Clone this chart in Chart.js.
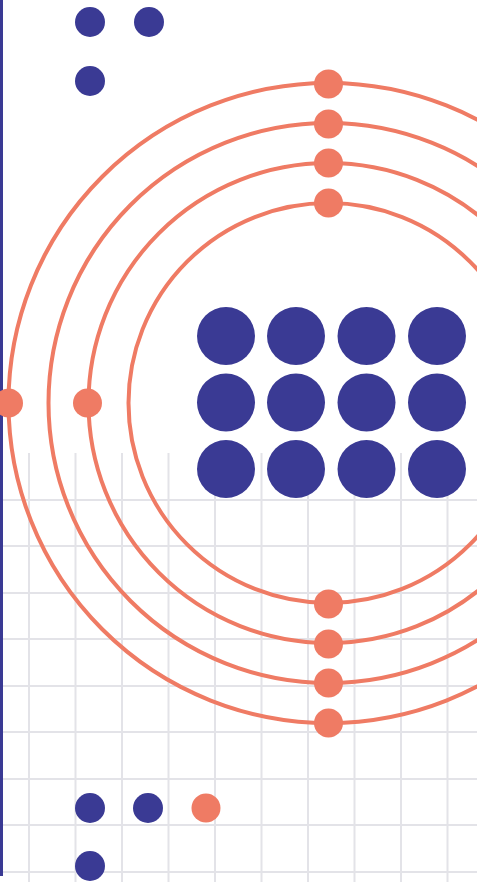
<!DOCTYPE html>
<html>
<head>
<meta charset="utf-8">
<script src="https://cdn.jsdelivr.net/npm/chart.js"></script>
<style>
  html, body { margin: 0; padding: 0; background: #ffffff; }
  #wrap { width: 477px; height: 882px; position: relative; }
</style>
</head>
<body>
<div id="wrap"><canvas id="decoChart" width="477" height="882"></canvas></div>
<script>
// page space: 1 unit = 1 px, y grows downward
const gridCols = [29, 75.5, 122, 168.5, 215, 261.5, 308, 354.5, 401, 447.5];
const gridRows = [500, 546, 593, 639, 686, 732, 779, 825, 872];
const gridTop = 453;
const gridBottom = 882;

const sideBar = [{ x: 1.5, y: 0 }, { x: 1.5, y: 876 }];

const ringCenter = { x: 328.5, y: 403 };
const ringRadii = [200, 240, 280, 320];

const orangeDots = [
    [328.5, 84], [328.5, 124], [328.5, 163], [328.5, 203],
    [328.5, 604], [328.5, 644], [328.5, 683], [328.5, 723],
    [8.5, 403], [87.5, 403],
    [206, 808]
];

const smallBlueDots = [
    [90, 22], [149, 22], [90, 81],
    [90, 808], [148, 808], [90, 866]
];

const bigDotCols = [226, 296, 366.5, 437];
const bigDotRows = [336, 402.5, 469];

const BLUE = '#3a3a94';
const ORANGE = '#ef7b64';
const GRID = '#e3e3e8';

// one dataset per grid line keeps things simple
function gridDatasets() {
    const sets = [];
    gridCols.forEach(x => sets.push([{ x: x, y: gridTop }, { x: x, y: gridBottom }]));
    gridRows.forEach(y => sets.push([{ x: 0, y: y }, { x: 477, y: y }]));
    return sets.map(d => ({
        type: 'scatter',
        showLine: true,
        data: d,
        borderColor: GRID,
        borderWidth: 2,
        pointRadius: 0,
        fill: false,
        order: 6
    }));
}

const bigDots = [];
bigDotRows.forEach(y => bigDotCols.forEach(x => bigDots.push({ x: x, y: y, r: 29 })));

const ctx = document.getElementById('decoChart').getContext('2d');
const chart = new Chart(ctx, {
    type: 'bubble',
    data: {
        datasets: [
            ...gridDatasets(),
            {
                type: 'scatter',
                showLine: true,
                data: sideBar,
                borderColor: BLUE,
                borderWidth: 3,
                pointRadius: 0,
                fill: false,
                order: 5
            },
            {
                data: bigDots,
                backgroundColor: BLUE,
                borderWidth: 0,
                order: 4
            },
            {
                data: ringRadii.map(r => ({ x: ringCenter.x, y: ringCenter.y, r: r })),
                backgroundColor: 'rgba(0,0,0,0)',
                borderColor: ORANGE,
                borderWidth: 4,
                order: 3
            },
            {
                data: orangeDots.map(([x, y]) => ({ x: x, y: y, r: 14.5 })),
                backgroundColor: ORANGE,
                borderWidth: 0,
                order: 2
            },
            {
                data: smallBlueDots.map(([x, y]) => ({ x: x, y: y, r: 15 })),
                backgroundColor: BLUE,
                borderWidth: 0,
                order: 1
            }
        ]
    },
    options: {
        responsive: false,
        animation: false,
        events: [],
        layout: { padding: 0, autoPadding: false }, // bubbles would otherwise shrink the area by the biggest radius
        plugins: {
            legend: { display: false },
            tooltip: { enabled: false }
        },
        scales: {
            x: { type: 'linear', min: 0, max: 477, display: false },
            y: { type: 'linear', min: 0, max: 882, reverse: true, display: false }
        }
    }
});
</script>
</body>
</html>
